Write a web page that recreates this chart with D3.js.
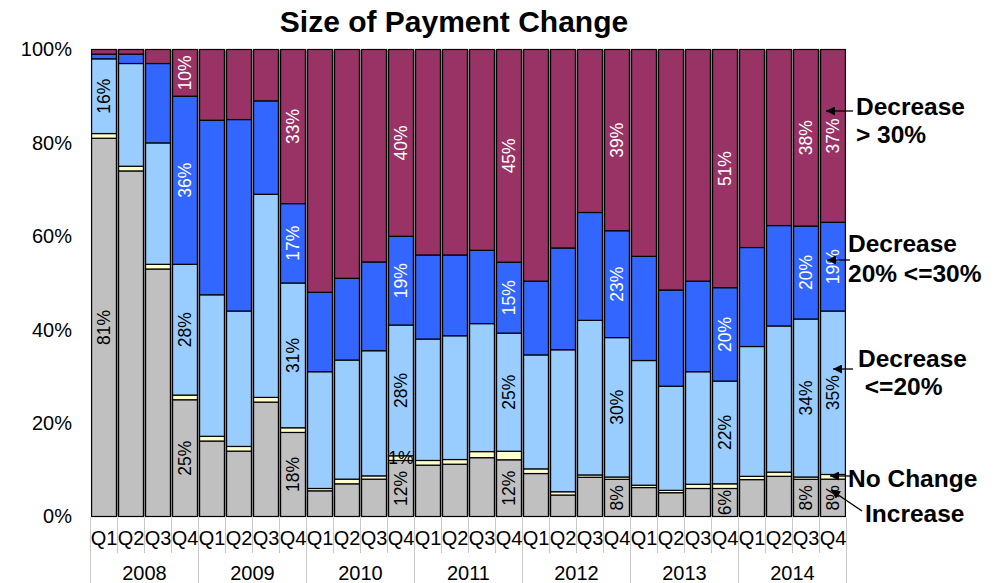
<!DOCTYPE html>
<html>
<head>
<meta charset="utf-8">
<script src="https://cdn.jsdelivr.net/npm/d3@7"></script>
<style>
  body { margin: 0; background: #fff; }
  svg { display: block; font-family: "Liberation Sans", Arial, sans-serif; }
</style>
</head>
<body>
<svg id="chart" width="1001" height="583"></svg>
<script>
// ---- data -------------------------------------------------------------
const years = ["2008", "2009", "2010", "2011", "2012", "2013", "2014"];
const quarters = ["Q1", "Q2", "Q3", "Q4"];
const periods = years.flatMap(y => quarters.map(q => y + " " + q));

// share of loans (%) by size of payment change, one value per quarter
const increase       = [81, 74, 53, 25, 16, 14, 24.5, 18, 5.5, 7, 8, 12, 11, 11.2, 12.6, 12, 9.2, 4.6, 8.4, 8, 6.2, 5.1, 6, 6, 7.9, 8.6, 8, 8];
const noChange       = [1, 1, 1, 1, 1, 1, 1, 1, 0.5, 1, 0.7, 1, 1, 1, 1.3, 1.8, 1, 0.7, 0.5, 0.5, 0.5, 0.5, 0.9, 1, 0.7, 0.9, 0.5, 1];
const decreaseUpTo20 = [16, 22, 26, 28, 30, 29, 43.5, 31, 25, 25.5, 26.8, 28, 26, 26.5, 27.4, 25, 24.4, 30.4, 33.1, 30, 26.7, 22.3, 24.1, 22, 27.8, 31.3, 34, 35];
const decrease20to30 = [1, 2, 17, 36, 37, 41, 20, 17, 17, 17.5, 19, 19, 18, 17.3, 15.7, 15, 15.8, 21.8, 23.1, 23, 22.3, 20.6, 19.4, 20, 21.2, 21.5, 20, 19];
const decreaseOver30 = [1, 1, 3, 10, 15, 15, 11, 33, 52, 49, 45.5, 40, 44, 44, 43, 45, 49.6, 42.5, 34.9, 39, 44.3, 51.5, 49.6, 51, 42.4, 37.7, 38, 37];

const seriesKeys = ["increase", "noChange", "decreaseUpTo20", "decrease20to30", "decreaseOver30"];
const seriesColors = ["#C0C0C0", "#FFFFCC", "#99CCFF", "#3366FF", "#993366"];
const labelColors = ["#000", "#000", "#000", "#fff", "#fff"];

const yTicks = [0, 0.2, 0.4, 0.6, 0.8, 1];

// quarters whose segments carry value labels
const labelledPeriods = ["2008 Q1", "2008 Q4", "2009 Q4", "2010 Q4", "2011 Q4", "2012 Q4", "2013 Q4", "2014 Q3", "2014 Q4"];
// a small segment labelled flat instead of rotated
const flatLabels = [{ period: "2010 Q4", key: "noChange" }];

const calloutTexts = [
  ["Decrease", "> 30%"],
  ["Decrease", "20% <=30%"],
  ["Decrease", " <=20%"],
  ["No Change"],
  ["Increase"]
];

const titleText = "Size of Payment Change";

// ---- layout -----------------------------------------------------------
const svg = d3.select("#chart");
const plot = { left: 90.5, right: 846.5, top: 49.5, bottom: 516.5 };

const rows = periods.map((p, i) => ({
  period: p,
  increase: increase[i],
  noChange: noChange[i],
  decreaseUpTo20: decreaseUpTo20[i],
  decrease20to30: decrease20to30[i],
  decreaseOver30: decreaseOver30[i]
}));

const x = d3.scaleBand()
  .domain(periods)
  .range([plot.left, plot.right])
  .paddingInner(0.08)
  .paddingOuter(0.04);

const y = d3.scaleLinear().domain([0, 1]).range([plot.bottom, plot.top]);

const stacked = d3.stack()
  .keys(seriesKeys)
  .offset(d3.stackOffsetExpand)(rows);

// title
svg.append("text")
  .attr("x", 454)
  .attr("y", 31.5)
  .attr("text-anchor", "middle")
  .attr("font-size", 30)
  .attr("font-weight", "bold")
  .text(titleText);

// dark backing that shows through the narrow gaps between columns
svg.append("rect")
  .attr("x", x(periods[0]))
  .attr("y", y(1))
  .attr("width", x(periods[periods.length - 1]) + x.bandwidth() - x(periods[0]))
  .attr("height", y(0) - y(1))
  .attr("fill", "#8a8a8a");

// stacked columns
const layers = svg.append("g")
  .selectAll("g")
  .data(stacked)
  .join("g")
  .attr("fill", (d, i) => seriesColors[i]);

layers.selectAll("rect")
  .data(d => d)
  .join("rect")
  .attr("x", d => x(d.data.period))
  .attr("y", d => y(d[1]))
  .attr("width", x.bandwidth())
  .attr("height", d => y(d[0]) - y(d[1]))
  .attr("stroke", "#000")
  .attr("stroke-width", 1.2);

// value labels
const labelG = svg.append("g")
  .attr("font-size", 17.5)
  .attr("text-anchor", "middle");

stacked.forEach((layer, si) => {
  layer.forEach(d => {
    const p = d.data.period;
    const v = d.data[layer.key];
    const cx = x(p) + x.bandwidth() / 2;
    const cy = (y(d[0]) + y(d[1])) / 2;
    const flat = flatLabels.some(f => f.period === p && f.key === layer.key);
    if (flat) {
      labelG.append("text")
        .attr("x", cx)
        .attr("y", cy)
        .attr("dominant-baseline", "central")
        .attr("fill", labelColors[si])
        .text(d3.format(".0f")(v) + "%");
    } else if (labelledPeriods.includes(p) && v >= 5) {
      labelG.append("text")
        .attr("transform", `translate(${cx},${cy}) rotate(-90)`)
        .attr("dominant-baseline", "central")
        .attr("fill", labelColors[si])
        .text(d3.format(".0f")(v) + "%");
    }
  });
});

// y axis
const yAxis = svg.append("g")
  .attr("transform", `translate(${plot.left + 1.5},0)`)
  .call(d3.axisLeft(y).tickValues(yTicks).tickSize(0).tickPadding(20).tickFormat(d3.format(".0%")));
yAxis.select(".domain").remove();
yAxis.selectAll("text")
  .attr("font-family", "Liberation Sans, Arial, sans-serif")
  .attr("font-size", 20)
  .attr("fill", "#000");

// category separators under the plot
const step = x.step();
const edges = d3.range(periods.length + 1).map(i => plot.left + i * step);
svg.append("g")
  .selectAll("line")
  .data(edges)
  .join("line")
  .attr("x1", d => d).attr("x2", d => d)
  .attr("y1", plot.bottom + 1)
  .attr("y2", (d, i) => (i % 4 === 0 ? 583 : 553))
  .attr("stroke", "#c8c8c8")
  .attr("stroke-width", 1);

// quarter labels
const xAxis = svg.append("g")
  .attr("transform", `translate(0,${plot.bottom})`)
  .call(d3.axisBottom(x).tickSize(0).tickPadding(14).tickFormat(p => p.split(" ")[1]));
xAxis.select(".domain").remove();
xAxis.selectAll("text")
  .attr("font-family", "Liberation Sans, Arial, sans-serif")
  .attr("font-size", 20)
  .attr("fill", "#000");

// year labels
svg.append("g")
  .attr("font-size", 20)
  .attr("text-anchor", "middle")
  .selectAll("text")
  .data(years)
  .join("text")
  .attr("x", yr => {
    const a = x(yr + " Q1");
    const b = x(yr + " Q4") + x.bandwidth();
    return (a + b) / 2;
  })
  .attr("y", 580)
  .text(yr => yr);

// callouts with arrows
svg.append("defs").append("marker")
  .attr("id", "arrowhead")
  .attr("viewBox", "0 0 10 10")
  .attr("refX", 10).attr("refY", 5)
  .attr("markerWidth", 11).attr("markerHeight", 9)
  .attr("markerUnits", "userSpaceOnUse")
  .attr("orient", "auto")
  .append("path")
  .attr("d", "M0,0 L10,5 L0,10 Z")
  .attr("fill", "#000");

const calloutLayout = [
  { tx: [856, 856], ty: [115, 143], arrow: [853, 111, 826, 111] },
  { tx: [848, 848], ty: [252, 282], arrow: [850, 260, 827, 260] },
  { tx: [858, 858], ty: [367, 395], arrow: [853, 369, 833, 369] },
  { tx: [848], ty: [487], arrow: [850, 476, 830, 476] },
  { tx: [865], ty: [522], arrow: [862, 511, 831, 490] }
];

const calloutG = svg.append("g")
  .attr("font-size", 24.5)
  .attr("font-weight", "bold");

calloutTexts.forEach((lines, i) => {
  const L = calloutLayout[i];
  lines.forEach((t, j) => {
    calloutG.append("text")
      .attr("x", L.tx[j])
      .attr("y", L.ty[j])
      .attr("xml:space", "preserve")
      .style("white-space", "pre")
      .text(t);
  });
  calloutG.append("line")
    .attr("x1", L.arrow[0]).attr("y1", L.arrow[1])
    .attr("x2", L.arrow[2]).attr("y2", L.arrow[3])
    .attr("stroke", "#000")
    .attr("stroke-width", 1.3)
    .attr("marker-end", "url(#arrowhead)");
});
</script>
</body>
</html>
